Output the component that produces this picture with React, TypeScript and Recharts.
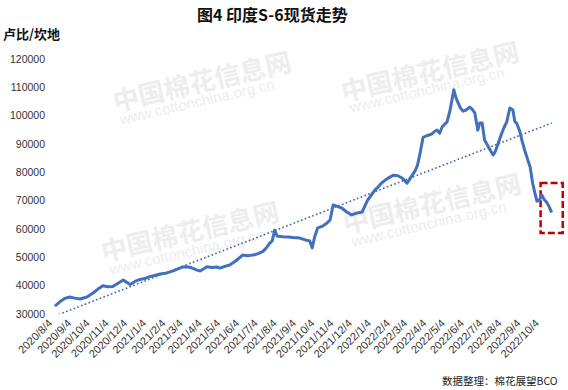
import React from 'react';
import { LineChart, Line, XAxis, YAxis, ReferenceArea } from 'recharts';

// S-6 spot price (rupees per candy)
const seriesDates = [
  '2020/8/12', '2020/8/20', '2020/8/28', '2020/9/5', '2020/9/13', '2020/9/22', '2020/10/3', '2020/10/13',
  '2020/10/21', '2020/10/29', '2020/11/6', '2020/11/14', '2020/11/22', '2020/12/1', '2020/12/12', '2020/12/20',
  '2020/12/28', '2021/1/5', '2021/1/13', '2021/1/21', '2021/1/30', '2021/2/10', '2021/2/20', '2021/2/28',
  '2021/3/8', '2021/3/14', '2021/3/22', '2021/3/31', '2021/4/5', '2021/4/16', '2021/4/24', '2021/5/2',
  '2021/5/7', '2021/5/15', '2021/5/23', '2021/6/2', '2021/6/13', '2021/6/22', '2021/6/30', '2021/7/8',
  '2021/7/16', '2021/7/22', '2021/7/27', '2021/7/31', '2021/8/4', '2021/8/8', '2021/8/17', '2021/8/26',
  '2021/9/3', '2021/9/14', '2021/9/25', '2021/9/30', '2021/10/4', '2021/10/8', '2021/10/13', '2021/10/20',
  '2021/10/28', '2021/11/2', '2021/11/7', '2021/11/14', '2021/11/21', '2021/11/29', '2021/12/7', '2021/12/15',
  '2021/12/24', '2022/1/2', '2022/1/8', '2022/1/14', '2022/1/19', '2022/1/25', '2022/2/1', '2022/2/7',
  '2022/2/13', '2022/2/20', '2022/2/27', '2022/3/7', '2022/3/14', '2022/3/20', '2022/3/24', '2022/3/28',
  '2022/4/2', '2022/4/9', '2022/4/16', '2022/4/21', '2022/4/25', '2022/4/29', '2022/5/3', '2022/5/11',
  '2022/5/16', '2022/5/22', '2022/5/26', '2022/5/29', '2022/6/2', '2022/6/6', '2022/6/11', '2022/6/17',
  '2022/6/21', '2022/6/25', '2022/6/30', '2022/7/3', '2022/7/7', '2022/7/11', '2022/7/16', '2022/7/20',
  '2022/7/25', '2022/7/28', '2022/7/31', '2022/8/4', '2022/8/8', '2022/8/12', '2022/8/16', '2022/8/21',
  '2022/8/26', '2022/8/29', '2022/9/1', '2022/9/6', '2022/9/10', '2022/9/14', '2022/9/19', '2022/9/23',
  '2022/9/27', '2022/10/1', '2022/10/4', '2022/10/8', '2022/10/12', '2022/10/16', '2022/10/20', '2022/10/24',
  '2022/10/28',
];
const seriesValues = [
  32800, 34300, 35500, 36000, 35600, 35300, 36000, 37400,
  38800, 40000, 39600, 39700, 40800, 42000, 40400, 41500,
  42200, 42500, 43200, 43600, 44100, 44500, 45200, 45900,
  46600, 46700, 46300, 45500, 45200, 46700, 46400, 46600,
  46200, 46800, 47300, 48800, 50800, 50600, 50800, 51300,
  52100, 53500, 55000, 55800, 59600, 57500, 57300, 57200,
  57000, 56800, 56000, 55800, 53300, 57300, 60400, 60900,
  62100, 63200, 68500, 68000, 67400, 66000, 65000, 65600,
  66000, 70200, 72000, 73800, 74800, 76300, 77500, 78300,
  79000, 78800, 78000, 76200, 78500, 80500, 82500, 86500,
  92300, 93000, 93500, 94500, 94900, 93800, 96000, 97800,
  102000, 109100, 106000, 104500, 102600, 101600, 102000, 103000,
  102200, 101000, 94900, 97400, 97400, 91400, 89500, 87900,
  86100, 87200, 88900, 91400, 93900, 96000, 97800, 102700,
  102000, 98000, 97400, 94600, 91000, 87900, 84500, 81900,
  76200, 72500, 69800, 70200, 72000, 70300, 69400, 67800,
  65800,
];

// linear trend line end points
const trendDates = ['2020/8/12', '2022/10/28'];
const trendValues = [29300, 97400];

// highlighted latest period (red dashed box)
const highlightDates = ['2022/10/10', '2022/11/15'];
const highlightValues = [58600, 76200];

const tickLabels = [
  '2020/8/4', '2020/9/4', '2020/10/4', '2020/11/4', '2020/12/4', '2021/1/4', '2021/2/4', '2021/3/4',
  '2021/4/4', '2021/5/4', '2021/6/4', '2021/7/4', '2021/8/4', '2021/9/4', '2021/10/4', '2021/11/4',
  '2021/12/4', '2022/1/4', '2022/2/4', '2022/3/4', '2022/4/4', '2022/5/4', '2022/6/4', '2022/7/4',
  '2022/8/4', '2022/9/4', '2022/10/4',
];
const yTicks = [30000, 40000, 50000, 60000, 70000, 80000, 90000, 100000, 110000, 120000];

const ORIGIN = Date.UTC(2020, 7, 4);
const toDay = (s: string) => {
  const [y, m, d] = s.split('/').map(Number);
  return Math.round((Date.UTC(y, m - 1, d) - ORIGIN) / 86400000);
};

const data = seriesDates.map((d, i) => ({ day: toDay(d), price: seriesValues[i] }));
const trendData = trendDates.map((d, i) => ({ day: toDay(d), trend: trendValues[i] }));
const tickDays = tickLabels.map(toDay);
const labelByDay = new Map<number, string>(tickDays.map((d, i) => [d, tickLabels[i]]));
const xDomainEnd = toDay('2022/11/17');

const FONT = '"Liberation Sans", Arial, sans-serif';
const CJK = '"Noto Sans CJK SC", sans-serif';

const XTick = (props: any) => {
  const { x, y, payload } = props;
  const ax = x + 3;
  const ay = y + 10;
  return (
    <text
      x={ax}
      y={ay}
      textAnchor="end"
      transform={`rotate(-45, ${ax}, ${ay})`}
      fontSize={11}
      fontFamily={FONT}
      fill="#333"
    >
      {labelByDay.get(payload.value)}
    </text>
  );
};

const wm = (text: string, left: number, top: number, size: number, bold = true) => (
  <div
    style={{
      position: 'absolute',
      left,
      top,
      fontSize: size,
      fontWeight: bold ? 700 : 400,
      fontFamily: bold ? CJK : FONT,
      color: '#ededed',
      transform: 'rotate(-13deg)',
      transformOrigin: 'left top',
      whiteSpace: 'nowrap',
      lineHeight: 1,
    }}
  >
    {text}
  </div>
);

export default function App() {
  return (
    <div
      style={{
        position: 'absolute',
        left: 0,
        top: 0,
        width: 568,
        height: 390,
        background: '#fff',
        overflow: 'hidden',
      }}
    >
      {wm('中国棉花信息网', 110, 88, 26)}
      {wm('www.cottonchina.org.cn', 118, 112, 15, false)}
      {wm('中国棉花信息网', 338, 78, 26)}
      {wm('www.cottonchina.org.cn', 348, 100, 15, false)}
      {wm('中国棉花信息网', 98, 238, 26)}
      {wm('www.cottonchina.org.cn', 108, 262, 15, false)}
      {wm('中国棉花信息网', 340, 210, 26)}
      {wm('www.cottonchina.org.cn', 350, 234, 15, false)}

      <div style={{ position: 'absolute', left: 0, top: 0 }}>
        <LineChart
          width={568}
          height={390}
          data={data}
          margin={{ top: 59, right: 4, bottom: 6, left: 0 }}
        >
          <XAxis
            dataKey="day"
            type="number"
            domain={[0, xDomainEnd]}
            allowDataOverflow
            ticks={tickDays}
            interval={0}
            tick={<XTick />}
            tickLine={false}
            axisLine={false}
            tickSize={0}
            tickMargin={0}
            height={70}
          />
          <YAxis
            type="number"
            domain={[30000, 120000]}
            allowDataOverflow
            ticks={yTicks}
            interval={0}
            width={50}
            tickLine={false}
            axisLine={false}
            tickSize={0}
            tickMargin={5}
            tick={{ fontSize: 10.5, fill: '#333', fontFamily: FONT }}
          />
          <Line
            data={trendData}
            dataKey="trend"
            type="linear"
            stroke="#3b63a8"
            strokeWidth={1.6}
            strokeDasharray="1.6 2.4"
            dot={false}
            activeDot={false}
            isAnimationActive={false}
          />
          <Line
            dataKey="price"
            type="linear"
            stroke="#4270be"
            strokeWidth={3}
            strokeLinejoin="round"
            dot={false}
            activeDot={false}
            isAnimationActive={false}
          />
          <ReferenceArea
            x1={toDay(highlightDates[0])}
            x2={toDay(highlightDates[1])}
            y1={highlightValues[0]}
            y2={highlightValues[1]}
            fill="none"
            fillOpacity={0}
            stroke="#c00000"
            strokeWidth={2.5}
            strokeDasharray="7 3"
            ifOverflow="visible"
          />
        </LineChart>
      </div>

      <div
        style={{
          position: 'absolute',
          left: 197,
          top: 6,
          fontSize: 16,
          lineHeight: '16px',
          fontWeight: 700,
          fontFamily: CJK,
          color: '#111',
          whiteSpace: 'nowrap',
        }}
      >
        图4 印度S-6现货走势
      </div>
      <div
        style={{
          position: 'absolute',
          left: 3,
          top: 27,
          fontSize: 13,
          lineHeight: '13px',
          fontWeight: 700,
          fontFamily: CJK,
          color: '#111',
          whiteSpace: 'nowrap',
        }}
      >
        卢比/坎地
      </div>
      <div
        style={{
          position: 'absolute',
          left: 442,
          top: 375,
          fontSize: 10.5,
          lineHeight: '11px',
          fontFamily: CJK,
          color: '#222',
          whiteSpace: 'nowrap',
        }}
      >
        数据整理：棉花展望BCO
      </div>
    </div>
  );
}
